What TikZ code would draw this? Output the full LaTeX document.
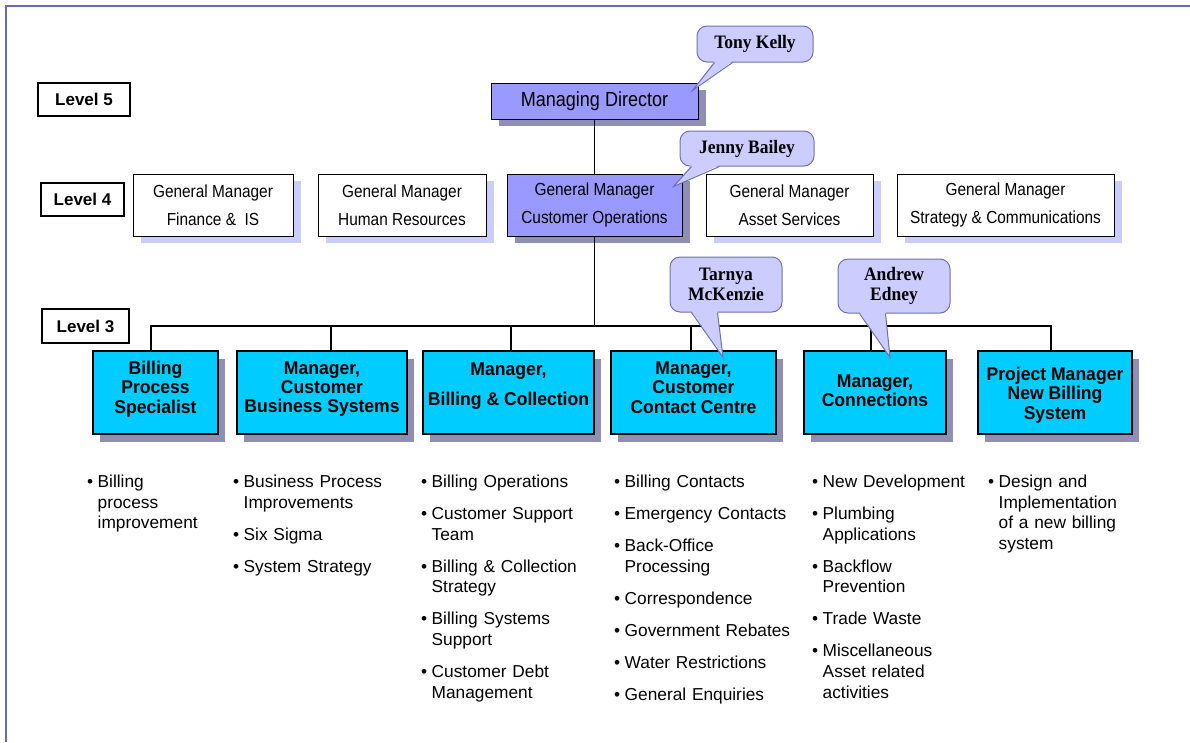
\documentclass[tikz,border=0pt]{standalone}
\usepackage{fontspec}
\setmainfont{Liberation Sans}
\newfontfamily\narrowsans[FakeStretch=0.88]{Liberation Sans}
\newfontfamily\boxsans[FakeStretch=0.95]{Liberation Sans}
\newfontfamily\bubserif[FakeStretch=0.92]{Liberation Serif}
\usetikzlibrary{shadows}
\definecolor{framec}{RGB}{107,107,166}
\definecolor{mdfill}{RGB}{153,153,255}
\definecolor{darkshad}{RGB}{143,143,180}
\definecolor{lightshad}{RGB}{204,204,255}
\definecolor{cyanfill}{RGB}{0,204,255}
\definecolor{bubfill}{RGB}{204,204,255}
\definecolor{bubline}{RGB}{112,112,176}
\newcommand\bitem[1]{\par\hangindent=10.5pt\hangafter=1\noindent\makebox[10.5pt][l]{\textbullet}#1\par}
\begin{document}
\begin{tikzpicture}[x=1pt,y=-1pt,
  lvl/.style={draw=black,line width=1.1pt,fill=white,inner sep=0pt,font=\fontsize{17}{20}\selectfont\bfseries},
  gmbase/.style={draw=black,line width=0.9pt,inner sep=0pt,minimum height=62pt,align=center,
     font=\narrowsans\fontsize{17.5}{28}\selectfont},
  gm/.style={gmbase,fill=white,drop shadow={shadow xshift=8pt,shadow yshift=-7pt,fill=lightshad,opacity=1}},
  gmhi/.style={gmbase,fill=mdfill,drop shadow={shadow xshift=8pt,shadow yshift=-7pt,fill=darkshad,opacity=1}},
  mdbox/.style={draw=black,line width=1pt,fill=mdfill,inner sep=0pt,font=\narrowsans\fontsize{20.5}{24}\selectfont,
     drop shadow={shadow xshift=8pt,shadow yshift=-7pt,fill=darkshad,opacity=1}},
  l3/.style={draw=black,line width=1.3pt,fill=cyanfill,inner sep=0pt,minimum height=83pt,
     drop shadow={shadow xshift=7pt,shadow yshift=-8pt,fill=darkshad,opacity=1}},
  l3txt/.style={inner sep=0pt,align=center,font=\boxsans\bfseries\fontsize{18.5}{19.3}\selectfont},
  bub/.style={draw=bubline,line width=1pt,fill=bubfill,rounded corners=10pt,inner sep=0pt,align=center,
     font=\bubserif\bfseries\fontsize{19}{20.6}\selectfont},
  ptrline/.style={draw=bubline,line width=1pt,line join=miter},
  conn/.style={draw=black,line width=1.2pt},
  busline/.style={draw=black,line width=1.7pt},
  blist/.style={anchor=north west,inner sep=0pt,text width=190pt,align=left,font=\fontsize{17.3}{20.8}\selectfont}
]
\useasboundingbox (0,0) rectangle (1190,742);
\fill[white] (0,0) rectangle (1190,742);
\draw[draw=framec,line width=2.2pt] (6,742) -- (6,6) -- (1190,6);

% level labels
\node[lvl,minimum width=92pt,minimum height=33pt] (lv5) at (84,99.5) {Level 5};
\node[lvl,minimum width=83pt,minimum height=33pt] (lv4) at (82.5,199.5) {Level 4};
\node[lvl,minimum width=87pt,minimum height=34pt] (lv3) at (85.5,326) {Level 3};

% level 5
\node[mdbox,minimum width=207pt,minimum height=36pt] (md) at (594.5,101) {Managing Director};

% level 4
\node[gm,minimum width=160pt] (fin) at (213,205) {General Manager\\Finance \&\ \ IS};
\node[gm,minimum width=168pt] (hr) at (402,205) {General Manager\\Human Resources};
\node[gmhi,minimum width=175pt] (co) at (594.5,205) {General Manager\\Customer Operations};
\node[gm,minimum width=167pt] (as) at (789.5,205) {General Manager\\Asset Services};
\node[gm,minimum width=217pt] (sc) at (1005.5,205) {General Manager\\Strategy \& Communications};

% level 3 boxes
\node[l3,minimum width=125pt] (bps) at (155.5,392.5) {};
\node[l3,minimum width=170pt] (cbs) at (322,392.5) {};
\node[l3,minimum width=171pt] (bc) at (508.5,392.5) {};
\node[l3,minimum width=165pt] (ccc) at (693.5,392.5) {};
\node[l3,minimum width=142pt] (cn) at (875,392.5) {};
\node[l3,minimum width=154pt] (pm) at (1055,392.5) {};

\node[l3txt] (bpst) at (155.5,389) {Billing\\Process\\Specialist};
\node[l3txt] (cbst) at (322,389) {Manager,\\Customer\\Business Systems};
\node[l3txt] (bct) at (508.5,386) {Manager,\\[10.7pt]Billing \& Collection};
\node[l3txt] (ccct) at (693.5,387.5) {Manager,\\Customer\\Contact Centre};
\node[l3txt] (cnt) at (875,391) {Manager,\\Connections};
\node[l3txt] (pmt) at (1055,395) {Project Manager\\New Billing\\System};

% connectors
\coordinate (busy) at (594.5,326);
\coordinate (d1) at ([xshift=-4.5pt]bps.north);
\coordinate (d2) at ([xshift=9pt]cbs.north);
\coordinate (d3) at ([xshift=2.5pt]bc.north);
\coordinate (d4) at ([xshift=-2.5pt]ccc.north);
\coordinate (d5) at ([xshift=-4pt]cn.north);
\coordinate (d6) at ([xshift=-4pt]pm.north);
\draw[conn] (md.south) -- (co.north);
\draw[conn] (co.south) -- (busy);
\draw[busline] (d1) -- (d1 |- busy) -- (d6 |- busy) -- (d6);
\draw[conn] (d2) -- (d2 |- busy);
\draw[conn] (d3) -- (d3 |- busy);
\draw[conn] (d4) -- (d4 |- busy);
\draw[conn] (d5) -- (d5 |- busy);

% callouts
\node[bub,minimum width=116pt,minimum height=36pt] (tk) at (755,44) {Tony Kelly};
\coordinate (tktip) at ([xshift=-6pt,yshift=-8pt]md.north east);
\fill[bubfill] ([xshift=18pt,yshift=1.5pt]tk.south west) -- (tktip) -- ([xshift=36pt,yshift=1.5pt]tk.south west) -- cycle;
\draw[ptrline] ([xshift=18pt]tk.south west) -- (tktip) -- ([xshift=36pt]tk.south west);

\node[bub,minimum width=134pt,minimum height=35pt] (jb) at (747,148.5) {Jenny Bailey};
\coordinate (jbtip) at ([xshift=-9pt,yshift=-13pt]co.north east);
\fill[bubfill] ([xshift=12pt,yshift=1.5pt]jb.south west) -- (jbtip) -- ([xshift=40pt,yshift=1.5pt]jb.south west) -- cycle;
\draw[ptrline] ([xshift=12pt]jb.south west) -- (jbtip) -- ([xshift=40pt]jb.south west);

\node[bub,minimum width=112pt,minimum height=55pt] (tm) at (726,284.5) {Tarnya\\McKenzie};
\coordinate (tmtip) at ([xshift=29.5pt,yshift=-7pt]ccc.north);
\fill[bubfill] ([xshift=22pt,yshift=1.5pt]tm.south west) -- (tmtip) -- ([xshift=48pt,yshift=1.5pt]tm.south west) -- cycle;
\draw[ptrline] ([xshift=22pt]tm.south west) -- (tmtip) -- ([xshift=48pt]tm.south west);

\node[bub,minimum width=112pt,minimum height=54pt] (ae) at (894,286) {Andrew\\Edney};
\coordinate (aetip) at ([xshift=15pt,yshift=-7pt]cn.north);
\fill[bubfill] ([xshift=22pt,yshift=1.5pt]ae.south west) -- (aetip) -- ([xshift=48pt,yshift=1.5pt]ae.south west) -- cycle;
\draw[ptrline] ([xshift=22pt]ae.south west) -- (aetip) -- ([xshift=48pt]ae.south west);

% bullet lists
\node[blist] (c1) at (87,455) {\setlength\parskip{11.2pt}%
\bitem{Billing\newline process\newline improvement}};
\node[blist] (c2) at (233,455) {\setlength\parskip{11.2pt}%
\bitem{Business Process\newline Improvements}
\bitem{Six Sigma}
\bitem{System Strategy}};
\node[blist] (c3) at (421,455) {\setlength\parskip{11.2pt}%
\bitem{Billing Operations}
\bitem{Customer Support\newline Team}
\bitem{Billing \& Collection\newline Strategy}
\bitem{Billing Systems\newline Support}
\bitem{Customer Debt\newline Management}};
\node[blist] (c4) at (614,455) {\setlength\parskip{11.2pt}%
\bitem{Billing Contacts}
\bitem{Emergency Contacts}
\bitem{Back-Office\newline Processing}
\bitem{Correspondence}
\bitem{Government Rebates}
\bitem{Water Restrictions}
\bitem{General Enquiries}};
\node[blist] (c5) at (812,455) {\setlength\parskip{11.2pt}%
\bitem{New Development}
\bitem{Plumbing\newline Applications}
\bitem{Backflow\newline Prevention}
\bitem{Trade Waste}
\bitem{Miscellaneous\newline Asset related\newline activities}};
\node[blist] (c6) at (988,455) {\setlength\parskip{11.2pt}%
\bitem{Design and\newline Implementation\newline of a new billing\newline system}};
\end{tikzpicture}
\end{document}
